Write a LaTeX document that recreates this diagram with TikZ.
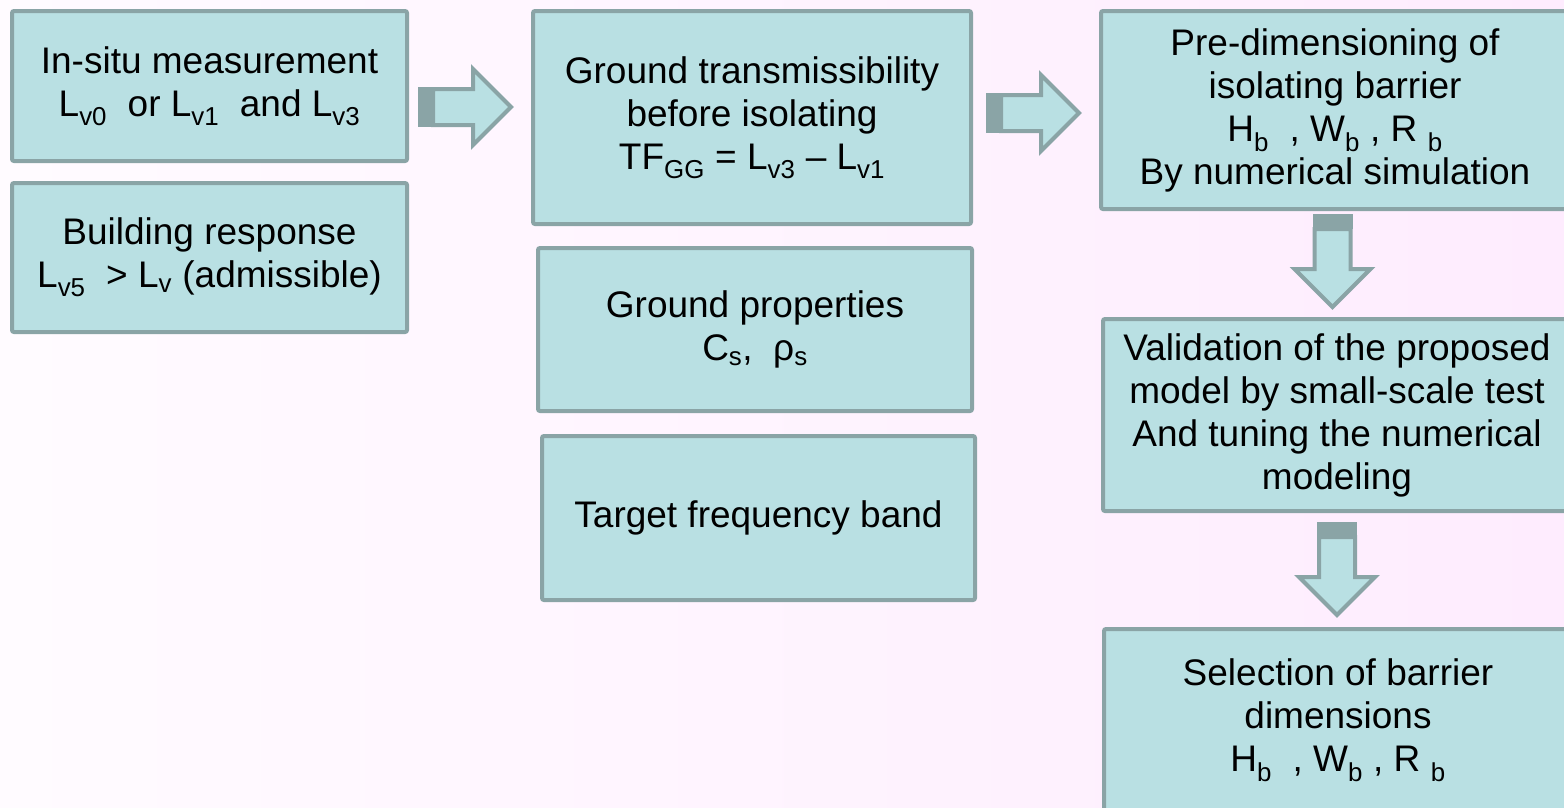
\documentclass[tikz,border=0pt]{standalone}
\usepackage{fontspec}
\setmainfont{Liberation Sans}
\usetikzlibrary{calc}
\definecolor{boxfill}{RGB}{185,224,227}
\definecolor{boxline}{RGB}{138,164,166}
\definecolor{bgwhite}{RGB}{255,251,255}
\definecolor{bgpink}{RGB}{254,236,254}
\newcommand{\lo}[1]{\textsubscript{#1}}
% block arrow: tail point, rotation
\newcommand{\blockarrow}[2]{%
  \begin{scope}[shift={#1},rotate=#2]
    \draw[arrowbody] (15,-18) -- (55,-18) -- (55,-38) -- (93,0) -- (55,38) -- (55,18) -- (15,18) -- cycle;
    \fill[boxline] (0,-20) rectangle (15,20);
  \end{scope}}

\begin{document}
\begin{tikzpicture}[x=1pt,y=-1pt,
    stepbox/.style={draw=boxline,fill=boxfill,line width=4pt,rounded corners=2pt,align=center,inner sep=0pt,font=\fontsize{37}{43}\selectfont},
    arrowbody/.style={draw=boxline,fill=boxfill,line width=4pt,line join=miter}]
  \useasboundingbox (0,0) rectangle (1564,807);
  \clip (0,0) rectangle (1564,807);
  \shade[left color=bgwhite,right color=bgpink] (0,0) rectangle (1564,807);
  % left column
  \node[stepbox,minimum width=395pt,minimum height=150pt] (insitu) at (209.5,86) {In-situ measurement\\L\lo{v0} ~or L\lo{v1} ~and L\lo{v3}};
  \node[stepbox,minimum width=395pt,minimum height=149pt] (building) at (209.5,257.5) {Building response\\L\lo{v5} ~> L\lo{v} (admissible)};
  % middle column
  \node[stepbox,minimum width=438pt,minimum height=213pt] (transmis) at (752,117.5) {Ground transmissibility\\before isolating\\TF\lo{GG} = L\lo{v3} – L\lo{v1}};
  \node[stepbox,minimum width=434pt,minimum height=163pt] (groundprop) at (755,329.5) {Ground properties\\C\lo{s}, ~ρ\lo{s}};
  \node[stepbox,minimum width=433pt,minimum height=164pt] (target) at (758.5,518) {Target frequency band};
  % right column
  \node[stepbox,minimum width=468pt,minimum height=198pt] (predim) at (1335,110) {Pre-dimensioning of\\isolating barrier\\H\lo{b} ~, W\lo{b} , R \lo{b}\\By numerical simulation};
  \node[stepbox,minimum width=468pt,minimum height=192pt] (validation) at (1337,415) {Validation of the proposed\\model by small-scale test\\And tuning the numerical\\modeling};
  \node[stepbox,minimum width=468pt,minimum height=182pt] (selection) at (1338,720) {Selection of barrier\\dimensions\\H\lo{b} ~, W\lo{b} , R \lo{b}};
  % block arrows
  \coordinate (tail1) at (418,107);
  \coordinate (tail2) at (986,113);
  \coordinate (tail3) at (1332.5,214);
  \coordinate (tail4) at (1337,522);
  \blockarrow{(tail1)}{0}
  \blockarrow{(tail2)}{0}
  \blockarrow{(tail3)}{-90}
  \blockarrow{(tail4)}{-90}
\end{tikzpicture}
\end{document}
